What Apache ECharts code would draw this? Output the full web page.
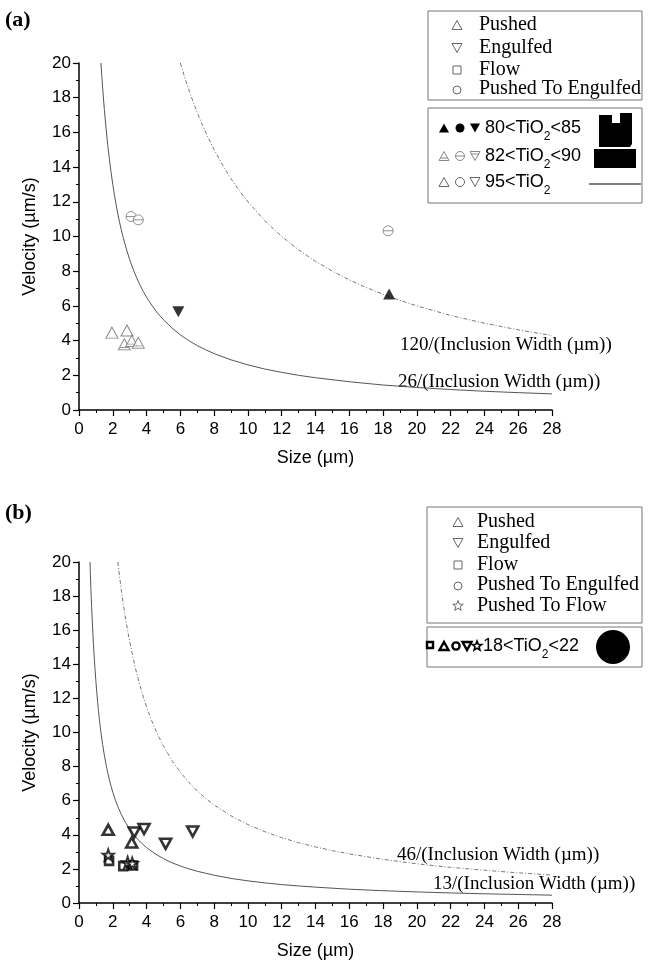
<!DOCTYPE html>
<html>
<head>
<meta charset="UTF-8">
<title>Velocity vs Size</title>
<script src="https://cdn.jsdelivr.net/npm/echarts@6/dist/echarts.min.js"></script>
<style>
  html, body { margin: 0; padding: 0; background: #fff; }
</style>
</head>
<body>
<div id="main" style="width:649px;height:962px;"></div>
<script>
// ---- data, panel (a) ----
var aPushed95 = [[1.95, 4.46], [2.84, 4.58]];
var aPushed82 = [[2.68, 3.79], [3.12, 3.98], [3.51, 3.88]];
var aPte82 = [[3.08, 11.15], [3.51, 10.96], [18.3, 10.33]];
var aEngulfed80 = [[5.88, 5.67]];
var aPushed80 = [[18.36, 6.68]];

// curves
var curve26 = [[1.3, 20], [1.35, 19.26], [1.4, 18.57], [1.45, 17.93], [1.5, 17.33], [1.6, 16.25],
  [1.7, 15.29], [1.8, 14.44], [1.9, 13.68], [2, 13], [2.1, 12.38], [2.2, 11.82], [2.3, 11.3],
  [2.4, 10.83], [2.5, 10.4], [2.6, 10], [2.8, 9.29], [3, 8.67], [3.2, 8.13], [3.4, 7.65], [3.6, 7.22],
  [3.8, 6.84], [4, 6.5], [4.3, 6.05], [4.6, 5.65], [5, 5.2], [5.5, 4.73], [6, 4.33], [6.5, 4],
  [7, 3.71], [7.5, 3.47], [8, 3.25], [9, 2.89], [10, 2.6], [11, 2.36], [12, 2.17], [13, 2],
  [14, 1.86], [16, 1.63], [18, 1.44], [20, 1.3], [22, 1.18], [24, 1.08], [26, 1], [28, 0.93]];
var curve120 = [[6, 20], [6.2, 19.35], [6.4, 18.75], [6.6, 18.18], [6.8, 17.65], [7, 17.14],
  [7.3, 16.44], [7.6, 15.79], [8, 15], [8.5, 14.12], [9, 13.33], [9.5, 12.63], [10, 12], [11, 10.91],
  [12, 10], [13, 9.23], [14, 8.57], [15, 8], [16, 7.5], [17, 7.06], [18, 6.67], [19, 6.32], [20, 6],
  [22, 5.45], [24, 5], [26, 4.62], [28, 4.29]];

// ---- data, panel (b) ----
var bPushed = [[1.73, 4.29], [3.12, 3.55]];
var bEngulfed = [[3.27, 4.14], [3.85, 4.34], [5.13, 3.47], [6.73, 4.19]];
var bPushedToFlow = [[1.73, 2.82], [2.88, 2.38], [3.15, 2.33]];
var bFlow = [[1.78, 2.47], [2.62, 2.16], [3.2, 2.2]];

var curve13 = [[0.65, 20], [0.675, 19.26], [0.7, 18.57], [0.725, 17.93], [0.75, 17.33], [0.8, 16.25],
  [0.85, 15.29], [0.9, 14.44], [0.95, 13.68], [1, 13], [1.05, 12.38], [1.1, 11.82], [1.15, 11.3],
  [1.2, 10.83], [1.25, 10.4], [1.3, 10], [1.4, 9.29], [1.5, 8.67], [1.6, 8.13], [1.7, 7.65],
  [1.8, 7.22], [1.9, 6.84], [2, 6.5], [2.15, 6.05], [2.3, 5.65], [2.5, 5.2], [2.75, 4.73], [3, 4.33],
  [3.25, 4], [3.5, 3.71], [3.75, 3.47], [4, 3.25], [4.5, 2.89], [5, 2.6], [5.5, 2.36], [6, 2.17],
  [6.5, 2], [7, 1.86], [8, 1.63], [9, 1.44], [10, 1.3], [11, 1.18], [12, 1.08], [13, 1], [14, 0.93],
  [16, 0.81], [18, 0.72], [20, 0.65], [22, 0.59], [24, 0.54], [26, 0.5], [28, 0.46]];
var curve46 = [[2.3, 20], [2.4, 19.17], [2.5, 18.4], [2.6, 17.69], [2.7, 17.04], [2.8, 16.43],
  [3, 15.33], [3.2, 14.38], [3.4, 13.53], [3.6, 12.78], [3.8, 12.11], [4, 11.5], [4.3, 10.7],
  [4.6, 10], [5, 9.2], [5.5, 8.36], [6, 7.67], [6.5, 7.08], [7, 6.57], [7.5, 6.13], [8, 5.75],
  [9, 5.11], [10, 4.6], [11, 4.18], [12, 3.83], [13, 3.54], [14, 3.29], [15, 3.07], [16, 2.88],
  [18, 2.56], [20, 2.3], [22, 2.09], [24, 1.92], [26, 1.77], [28, 1.64]];

var legendNames = ['Pushed', 'Engulfed', 'Flow', 'Pushed To Engulfed', 'Pushed To Flow'];
var curveLabels = ['120/(Inclusion Width (\u00b5m))', '26/(Inclusion Width (\u00b5m))',
  '46/(Inclusion Width (\u00b5m))', '13/(Inclusion Width (\u00b5m))'];

var SANS = '"Liberation Sans", Arial, sans-serif';
var SERIF = '"Liberation Serif", "Times New Roman", serif';

var myChart = echarts.init(document.getElementById('main'));

var starPath = 'path://M0,-10L2.35,-3.24L9.51,-3.09L3.8,1.24L5.88,8.09L0,4L-5.88,8.09L-3.8,1.24L-9.51,-3.09L-2.35,-3.24Z';
var hatchCircle = 'path://M0,-10A10,10,0,1,1,0,10A10,10,0,1,1,0,-10ZM-10,0L10,0';
var hatchTri = 'path://M0,-10L11,9L-11,9ZM-8,5L8,5';

function xAxisFor(i) {
  return {
    gridIndex: i, type: 'value', min: 0, max: 28, interval: 2,
    name: 'Size (\u00b5m)', nameLocation: 'middle', nameGap: 39,
    nameTextStyle: { fontFamily: SANS, fontSize: 18, color: '#000' },
    axisLine: { show: true, onZero: false, lineStyle: { color: '#000', width: 1.5 } },
    axisTick: { show: true, inside: false, length: 6, lineStyle: { color: '#000', width: 1.2 } },
    minorTick: { show: true, splitNumber: 2, length: 3, lineStyle: { color: '#000', width: 1 } },
    axisLabel: { fontFamily: SANS, fontSize: 17, color: '#000', margin: 11 },
    splitLine: { show: false }, minorSplitLine: { show: false }
  };
}
function yAxisFor(i) {
  return {
    gridIndex: i, type: 'value', min: 0, max: 20, interval: 2,
    name: 'Velocity (\u00b5m/s)', nameLocation: 'middle', nameGap: 40,
    nameTextStyle: { fontFamily: SANS, fontSize: 18, color: '#000' },
    axisLine: { show: true, onZero: false, lineStyle: { color: '#000', width: 1.5 } },
    axisTick: { show: true, inside: false, length: 6, lineStyle: { color: '#000', width: 1.2 } },
    minorTick: { show: true, splitNumber: 2, length: 3, lineStyle: { color: '#000', width: 1 } },
    axisLabel: { fontFamily: SANS, fontSize: 17, color: '#000', margin: 8 },
    splitLine: { show: false }, minorSplitLine: { show: false }
  };
}

function curveSeries(i, data, dashed) {
  return {
    type: 'line', xAxisIndex: i, yAxisIndex: i, data: data, smooth: false,
    symbol: 'none', silent: true, z: 1,
    lineStyle: dashed ? { color: '#777', width: 1, type: [4, 2, 1, 2] } : { color: '#555', width: 1 }
  };
}
function pointSeries(i, data, symbol, size, style, rotate) {
  return {
    type: 'scatter', xAxisIndex: i, yAxisIndex: i, data: data, symbol: symbol,
    symbolSize: size, symbolRotate: rotate || 0, itemStyle: style, z: 3
  };
}

var openGrey = { color: '#fff', borderColor: '#666', borderWidth: 1 };
var hatchGrey = { color: '#fff', borderColor: '#777', borderWidth: 1 };
var solidBlack = { color: '#000', borderColor: '#000', borderWidth: 0 };
var boldBlack = { color: '#fff', borderColor: '#000', borderWidth: 2.6 };

// ---- legend boxes and labels (graphic) ----
function tri(cx, cy, w, h, down, style) {
  var pts = down ? [[cx - w / 2, cy - h / 2], [cx + w / 2, cy - h / 2], [cx, cy + h / 2]]
                 : [[cx, cy - h / 2], [cx + w / 2, cy + h / 2], [cx - w / 2, cy + h / 2]];
  return { type: 'polygon', shape: { points: pts }, style: style };
}
function star(cx, cy, r, style) {
  var pts = [];
  for (var k = 0; k < 10; k++) {
    var a = -Math.PI / 2 + k * Math.PI / 5;
    var rr = k % 2 === 0 ? r : r * 0.42;
    pts.push([cx + rr * Math.cos(a), cy + rr * Math.sin(a)]);
  }
  return { type: 'polygon', shape: { points: pts }, style: style };
}
function txt(x, y, text, font, align) {
  return { type: 'text', x: x, y: y, style: { text: text, font: font, fill: '#000',
    textAlign: align || 'left', textVerticalAlign: 'middle' } };
}
// TiO2 with a lowered subscript
function tio(x, y, pre, post) {
  return { type: 'text', x: x, y: y, style: {
    text: '{n|' + pre + 'TiO}{s|2}' + (post ? '{n|' + post + '}' : ''),
    textVerticalAlign: 'middle',
    rich: {
      n: { fontFamily: SANS, fontSize: 18, color: '#000', lineHeight: 30, verticalAlign: 'middle' },
      s: { fontFamily: SANS, fontSize: 12, color: '#000', lineHeight: 12, verticalAlign: 'bottom' }
    } } };
}

var thin = { fill: '#fff', stroke: '#666', lineWidth: 1 };
var box = { fill: 'none', stroke: '#777', lineWidth: 1 };
var blk = { fill: '#000', stroke: '#000', lineWidth: 0 };
var hatch = { fill: '#fff', stroke: '#888', lineWidth: 1 };
var bold = { fill: '#fff', stroke: '#000', lineWidth: 2.4 };

var graphics = [
  txt(5, 20, '(a)', 'bold 22px ' + SERIF),
  txt(5, 513, '(b)', 'bold 22px ' + SERIF),

  // panel (a) legend box 1
  { type: 'rect', shape: { x: 428, y: 11, width: 214, height: 89 }, style: box },
  tri(457, 25, 10, 9, false, thin), txt(479, 25, legendNames[0], '20px ' + SERIF),
  tri(457, 48, 10, 9, true, thin), txt(479, 48, legendNames[1], '20px ' + SERIF),
  { type: 'rect', shape: { x: 453, y: 66, width: 8, height: 8 }, style: thin }, txt(479, 70, legendNames[2], '20px ' + SERIF),
  { type: 'circle', shape: { cx: 457, cy: 90, r: 4 }, style: thin }, txt(479, 89, legendNames[3], '20px ' + SERIF),

  // panel (a) legend box 2
  { type: 'rect', shape: { x: 428, y: 108, width: 214, height: 95 }, style: box },
  tri(444, 128, 10, 9, false, blk), { type: 'circle', shape: { cx: 460, cy: 128, r: 4.5 }, style: blk },
  tri(475, 128, 10, 9, true, blk), tio(485, 128, '80<', '<85'),
  { type: 'polygon', shape: { points: [[599, 115], [612, 115], [612, 123], [620, 123], [620, 113],
    [632, 113], [632, 144], [630, 147], [599, 147]] }, style: blk },
  { type: 'rect', shape: { x: 594, y: 149, width: 42, height: 19 }, style: blk },
  tri(444, 156, 10, 9, false, hatch), { type: 'line', shape: { x1: 440, y1: 158, x2: 448, y2: 158 }, style: { stroke: '#888', lineWidth: 1 } },
  { type: 'circle', shape: { cx: 460, cy: 156, r: 4.5 }, style: hatch },
  { type: 'line', shape: { x1: 455.5, y1: 156, x2: 464.5, y2: 156 }, style: { stroke: '#888', lineWidth: 1 } },
  tri(475, 156, 10, 9, true, hatch), { type: 'line', shape: { x1: 471, y1: 154, x2: 479, y2: 154 }, style: { stroke: '#888', lineWidth: 1 } },
  tio(485, 156, '82<', '<90'),
  tri(444, 182, 10, 9, false, thin), { type: 'circle', shape: { cx: 460, cy: 182, r: 4.5 }, style: thin },
  tri(475, 182, 10, 9, true, thin), tio(485, 182, '95<', ''),
  { type: 'line', shape: { x1: 589, y1: 184, x2: 641, y2: 184 }, style: { stroke: '#000', lineWidth: 1.2 } },

  // panel (a) curve labels
  txt(400, 345, curveLabels[0], '19px ' + SERIF),
  txt(398, 382, curveLabels[1], '19px ' + SERIF),

  // panel (b) legend box 1
  { type: 'rect', shape: { x: 427, y: 507, width: 215, height: 116 }, style: box },
  tri(458, 522, 10, 9, false, thin), txt(477, 522, legendNames[0], '20px ' + SERIF),
  tri(458, 543, 10, 9, true, thin), txt(477, 543, legendNames[1], '20px ' + SERIF),
  { type: 'rect', shape: { x: 454, y: 561, width: 8, height: 8 }, style: thin }, txt(477, 565, legendNames[2], '20px ' + SERIF),
  { type: 'circle', shape: { cx: 458, cy: 586, r: 4 }, style: thin }, txt(477, 585, legendNames[3], '20px ' + SERIF),
  star(458, 606, 5.5, thin), txt(477, 606, legendNames[4], '20px ' + SERIF),

  // panel (b) legend box 2
  { type: 'rect', shape: { x: 427, y: 627, width: 215, height: 40 }, style: box },
  { type: 'rect', shape: { x: 427, y: 642, width: 6, height: 6 }, style: bold },
  tri(444, 646, 9, 8, false, bold), { type: 'circle', shape: { cx: 456, cy: 646, r: 3.6 }, style: bold },
  tri(467, 646, 9, 8, true, bold), star(477, 646, 5, { fill: '#fff', stroke: '#000', lineWidth: 1.6 }),
  tio(483, 646, '18<', '<22'),
  { type: 'circle', shape: { cx: 613, cy: 647, r: 17 }, style: blk },

  // panel (b) curve labels
  txt(397, 855, curveLabels[2], '19px ' + SERIF),
  txt(433, 884, curveLabels[3], '19px ' + SERIF)
];

var option = {
  backgroundColor: '#fff',
  animation: false,
  grid: [
    { left: 79, right: 97, top: 63, height: 347, containLabel: false },
    { left: 79, right: 97, top: 562, height: 341, containLabel: false }
  ],
  xAxis: [xAxisFor(0), xAxisFor(1)],
  yAxis: [yAxisFor(0), yAxisFor(1)],
  graphic: { elements: graphics },
  series: [
    curveSeries(0, curve26, false),
    curveSeries(0, curve120, true),
    pointSeries(0, aPushed95, 'triangle', [12, 11], openGrey),
    pointSeries(0, aPushed82, hatchTri, [12, 11], hatchGrey),
    pointSeries(0, aPte82, hatchCircle, 10, hatchGrey),
    pointSeries(0, aEngulfed80, 'triangle', [12, 11], solidBlack, 180),
    pointSeries(0, aPushed80, 'triangle', [12, 11], solidBlack),

    curveSeries(1, curve13, false),
    curveSeries(1, curve46, true),
    pointSeries(1, bPushed, 'triangle', [11, 10], boldBlack),
    pointSeries(1, bEngulfed, 'triangle', [11, 10], boldBlack, 180),
    pointSeries(1, bFlow, 'rect', 8, boldBlack),
    pointSeries(1, bPushedToFlow, starPath, 11, { color: '#fff', borderColor: '#000', borderWidth: 2 })
  ]
};

myChart.setOption(option);
</script>
</body>
</html>
